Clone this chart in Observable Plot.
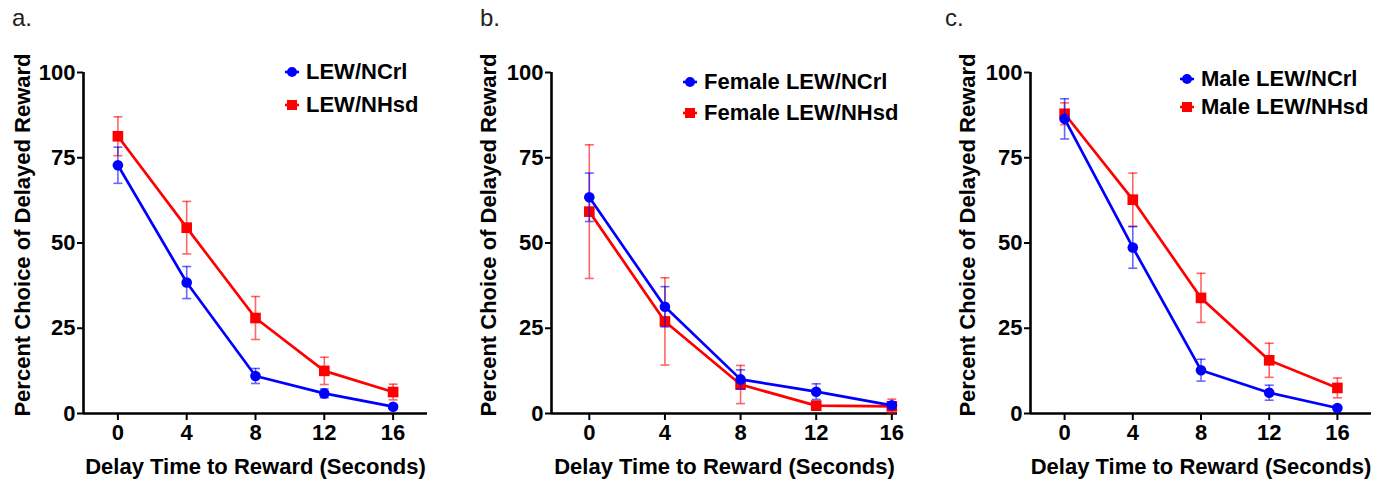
<!DOCTYPE html>
<html>
<head>
<meta charset="utf-8">
<script src="https://cdn.jsdelivr.net/npm/d3@7"></script>
<script src="https://cdn.jsdelivr.net/npm/@observablehq/plot@0.6"></script>
<style>
  html, body { margin: 0; padding: 0; background: #fff; }
  #root { position: relative; width: 1387px; height: 485px; overflow: hidden; font-family: "Liberation Sans", Arial, sans-serif; }
  .panel { position: absolute; top: 0; }
  .letter { position: absolute; font-size: 24px; line-height: 24px; color: #222; font-family: "Liberation Sans", Arial, sans-serif; }
  .leg { position: absolute; display: flex; align-items: center; height: 26px; font-size: 22px; font-weight: bold; color: #000; white-space: nowrap; }
  .leg svg { margin-right: 6px; }
</style>
</head>
<body>
<div id="root"></div>
<script>
// ---- data ----
const delays = [0, 4, 8, 12, 16];
const yTicks = [0, 25, 50, 75, 100];
const panelLetters = ["a.", "b.", "c."];
const xLabel = "Delay Time to Reward (Seconds)";
const yLabel = "Percent Choice of Delayed Reward";
const seriesNamesA = ["LEW/NCrl", "LEW/NHsd"];
const seriesNamesB = ["Female LEW/NCrl", "Female LEW/NHsd"];
const seriesNamesC = ["Male LEW/NCrl", "Male LEW/NHsd"];

const aNCrl = [72.8, 38.4, 11.0, 5.9, 2.0];
const aNCrlErr = [5.3, 4.7, 2.2, 1.3, 0.5];
const aNHsd = [81.3, 54.5, 28.0, 12.5, 6.3];
const aNHsdErr = [5.7, 7.7, 6.3, 4.0, 2.3];

const bNCrl = [63.4, 31.3, 10.0, 6.4, 2.4];
const bNCrlErr = [7.1, 5.9, 2.8, 2.3, 1.0];
const bNHsd = [59.2, 27.0, 8.5, 2.3, 2.1];
const bNHsdErr = [19.6, 12.8, 5.6, 0.5, 2.1];

const cNCrl = [86.4, 48.7, 12.7, 6.1, 1.6];
const cNCrlErr = [5.9, 6.1, 3.2, 2.2, 0.5];
const cNHsd = [87.9, 62.7, 33.9, 15.6, 7.5];
const cNHsdErr = [3.2, 7.8, 7.2, 5.0, 2.9];

const BLUE = "#0000ff", RED = "#ff0000";

// horizontal cap symbol for error bars
const capSymbol = {
  draw(ctx, size) {
    const w = Math.sqrt(size / Math.PI);
    ctx.moveTo(-w, 0); ctx.lineTo(w, 0);
  }
};

function rows(vals, errs) {
  return delays.map((d, i) => ({x: d, y: vals[i], lo: vals[i] - errs[i], hi: vals[i] + errs[i]}));
}

function seriesMarks(data, color, symbol, r) {
  return [
    Plot.ruleX(data, {x: "x", y1: "lo", y2: "hi", stroke: color, strokeWidth: 1.6, strokeOpacity: 0.6}),
    Plot.dot(data, {x: "x", y: "hi", symbol: capSymbol, r: 4.5, stroke: color, strokeWidth: 1.6, strokeOpacity: 0.6, fill: "none"}),
    Plot.dot(data, {x: "x", y: "lo", symbol: capSymbol, r: 4.5, stroke: color, strokeWidth: 1.6, strokeOpacity: 0.6, fill: "none"}),
    Plot.line(data, {x: "x", y: "y", stroke: color, strokeWidth: 2.7}),
    Plot.dot(data, {x: "x", y: "y", symbol, r, fill: color, stroke: "none"})
  ];
}

function makePanel(cfg) {
  const ncrl = rows(cfg.ncrl, cfg.ncrlErr);
  const nhsd = rows(cfg.nhsd, cfg.nhsdErr);
  const xDomain = [-2, cfg.xMax];
  const chart = Plot.plot({
    width: cfg.width,
    height: 485,
    marginTop: 72,
    marginBottom: 72,
    marginLeft: cfg.marginLeft,
    marginRight: cfg.width - cfg.axisEnd,
    style: {fontFamily: "'Liberation Sans', Arial, sans-serif", fontSize: "22px", fontWeight: "bold", color: "#000", background: "transparent", overflow: "visible"},
    x: {domain: xDomain},
    y: {domain: [0, 100]},
    marks: [
      Plot.axisX({ticks: delays, tickSize: 7, tickPadding: 4, strokeWidth: 2, label: xLabel, labelAnchor: "center", labelOffset: 60, labelArrow: "none"}),
      Plot.axisY({ticks: yTicks, tickSize: 6, tickPadding: 2, strokeWidth: 2, label: null}),
      Plot.text([yLabel], {text: d => d, frameAnchor: "left", textAnchor: "middle", lineAnchor: "middle", rotate: -90, dx: cfg.yLabelDx, dy: -8, fontSize: 22, fontWeight: "bold", fill: "#000"}),
      Plot.ruleY([0], {stroke: "#000", strokeWidth: 2.6}),
      Plot.ruleX([xDomain[0]], {stroke: "#000", strokeWidth: 2.6}),
      ...seriesMarks(nhsd, RED, "square", 6),
      ...seriesMarks(ncrl, BLUE, "circle", 5.3)
    ]
  });
  const wrap = document.createElement("div");
  wrap.className = "panel";
  wrap.style.left = cfg.left + "px";
  wrap.appendChild(chart);
  root.appendChild(wrap);

  const letter = document.createElement("div");
  letter.className = "letter";
  letter.textContent = cfg.letter;
  letter.style.left = cfg.letterX + "px";
  letter.style.top = "6px";
  root.appendChild(letter);

  const legendItems = [
    {name: cfg.names[0], color: BLUE, shape: "circle", y: cfg.legY[0]},
    {name: cfg.names[1], color: RED, shape: "square", y: cfg.legY[1]}
  ];
  for (const it of legendItems) {
    const row = document.createElement("div");
    row.className = "leg";
    row.style.left = (cfg.legX - 8) + "px";
    row.style.top = (it.y - 13) + "px";
    const shape = it.shape === "circle"
      ? `<circle cx="8" cy="8" r="5" fill="${it.color}"/>`
      : `<rect x="3" y="3" width="10" height="10" fill="${it.color}"/>`;
    row.innerHTML = `<svg width="16" height="16"><line x1="1" y1="8" x2="15" y2="8" stroke="${it.color}" stroke-width="2.6"/>${shape}</svg><span>${it.name}</span>`;
    root.appendChild(row);
  }
}

const root = document.getElementById("root");

makePanel({left: 0, width: 440, marginLeft: 83, axisEnd: 427, xMax: 18, yLabelDx: -61,
  ncrl: aNCrl, ncrlErr: aNCrlErr, nhsd: aNHsd, nhsdErr: aNHsdErr,
  letter: panelLetters[0], letterX: 12, names: seriesNamesA, legX: 292, legY: [72, 105]});
makePanel({left: 460, width: 450, marginLeft: 91, axisEnd: 437, xMax: 16.3, yLabelDx: -63,
  ncrl: bNCrl, ncrlErr: bNCrlErr, nhsd: bNHsd, nhsdErr: bNHsdErr,
  letter: panelLetters[1], letterX: 480, names: seriesNamesB, legX: 690, legY: [82, 113]});
makePanel({left: 920, width: 467, marginLeft: 110, axisEnd: 451, xMax: 18, yLabelDx: -63,
  ncrl: cNCrl, ncrlErr: cNCrlErr, nhsd: cNHsd, nhsdErr: cNHsdErr,
  letter: panelLetters[2], letterX: 945, names: seriesNamesC, legX: 1187, legY: [79, 107]});
</script>
</body>
</html>
